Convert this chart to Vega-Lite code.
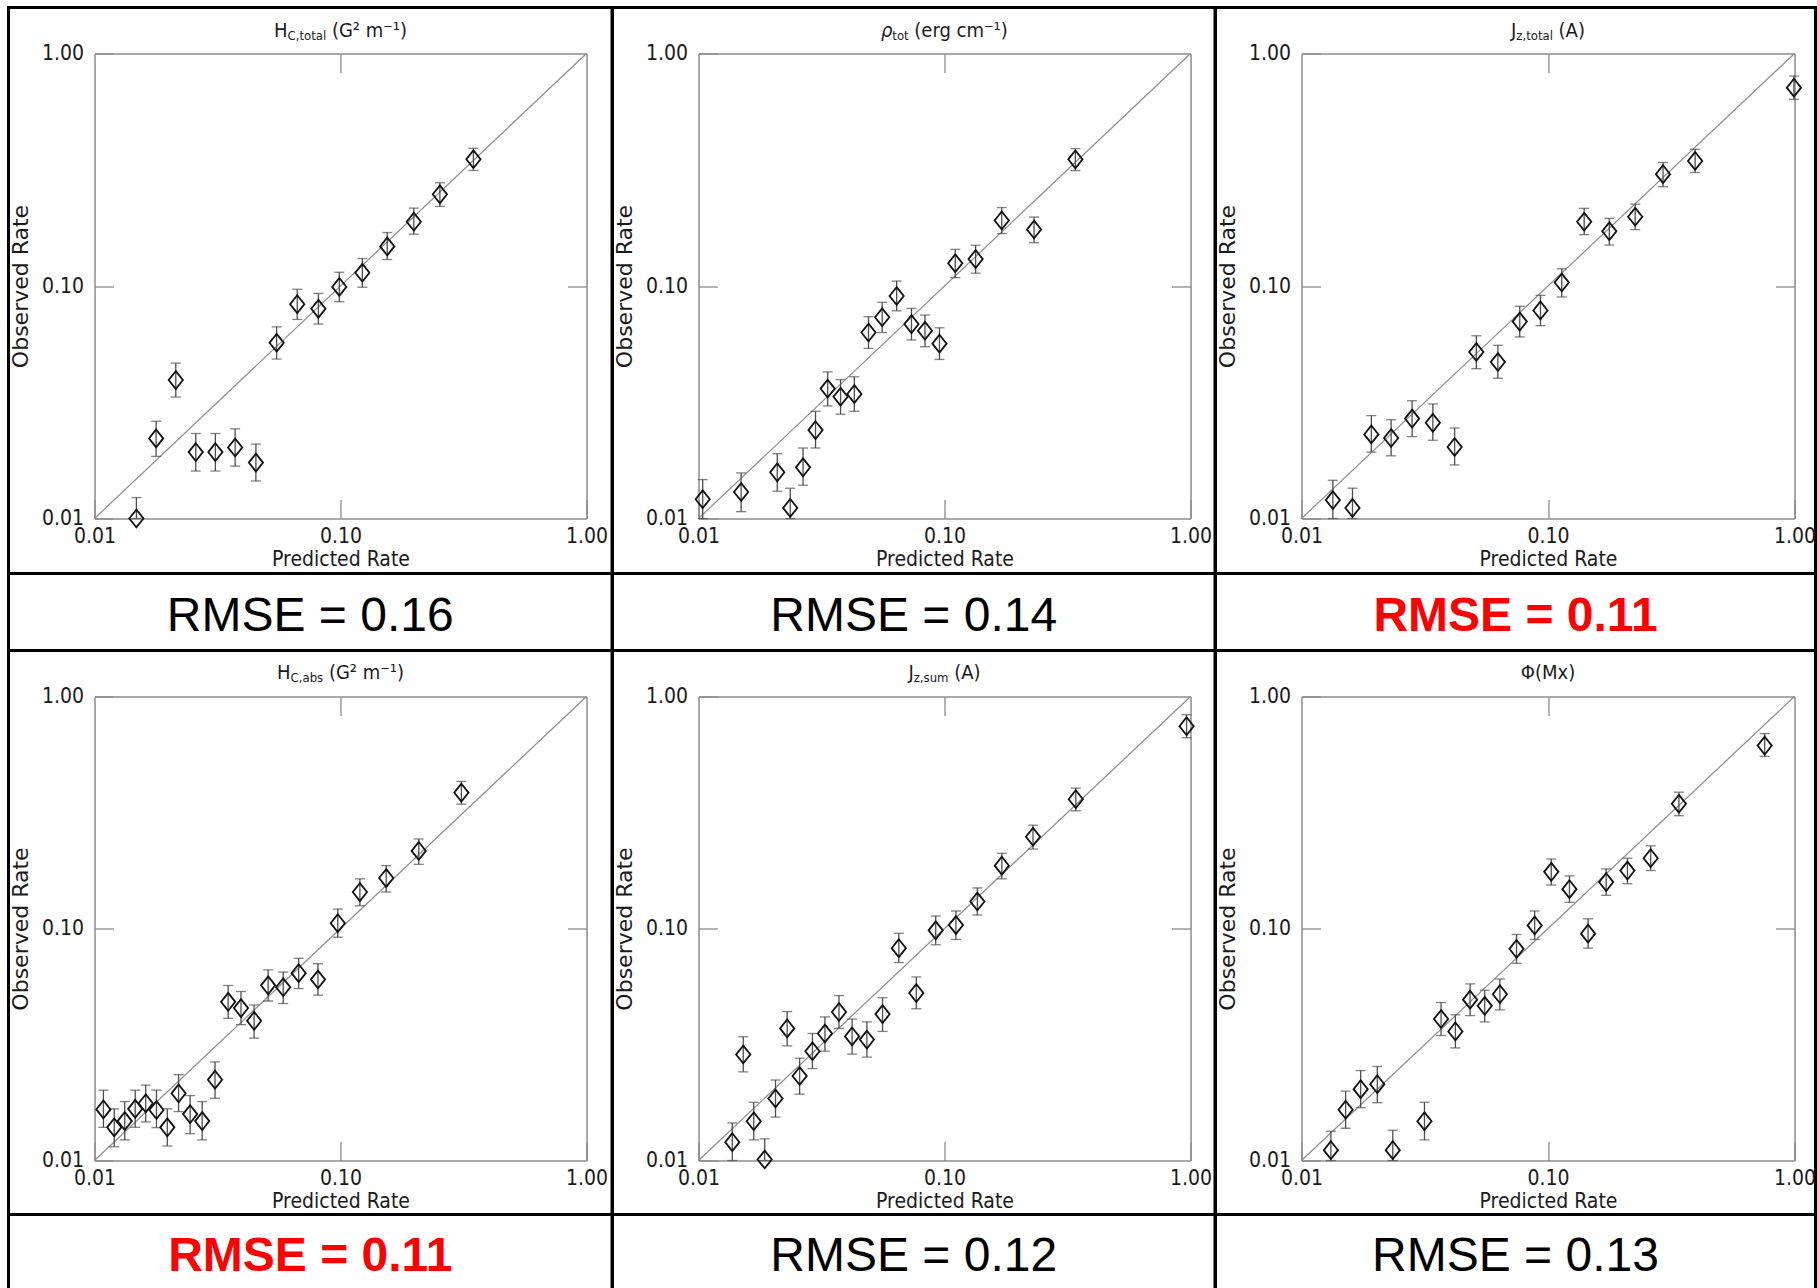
{
  "$schema": "https://vega.github.io/schema/vega-lite/v6.json",
  "background": "white",
  "padding": {"left": 6.5, "top": 5.5, "right": 0, "bottom": 0},
  "config": {
    "view": {"stroke": "black", "strokeWidth": 3},
    "font": "DejaVu Sans Condensed",
    "concat": {"spacing": 0}
  },
  "datasets": {
    "diag": [{"v": 0.01}, {"v": 1}],
    "p1": [
      {"pred": 0.0148, "obs": 0.0100, "lo": 0.0100, "hi": 0.0123},
      {"pred": 0.0178, "obs": 0.0221, "lo": 0.0185, "hi": 0.0262},
      {"pred": 0.0214, "obs": 0.0394, "lo": 0.0333, "hi": 0.0466},
      {"pred": 0.0258, "obs": 0.0193, "lo": 0.0160, "hi": 0.0232},
      {"pred": 0.0310, "obs": 0.0193, "lo": 0.0160, "hi": 0.0232},
      {"pred": 0.0373, "obs": 0.0202, "lo": 0.0168, "hi": 0.0243},
      {"pred": 0.0453, "obs": 0.0174, "lo": 0.0145, "hi": 0.0209},
      {"pred": 0.0550, "obs": 0.0570, "lo": 0.0485, "hi": 0.0667},
      {"pred": 0.0667, "obs": 0.0835, "lo": 0.0718, "hi": 0.0968},
      {"pred": 0.0813, "obs": 0.0798, "lo": 0.0686, "hi": 0.0929},
      {"pred": 0.0989, "obs": 0.0991, "lo": 0.0856, "hi": 0.1146},
      {"pred": 0.1227, "obs": 0.1140, "lo": 0.0988, "hi": 0.1313},
      {"pred": 0.1549, "obs": 0.1480, "lo": 0.1300, "hi": 0.1698},
      {"pred": 0.1986, "obs": 0.1890, "lo": 0.1670, "hi": 0.2163},
      {"pred": 0.2535, "obs": 0.2480, "lo": 0.2200, "hi": 0.2780},
      {"pred": 0.3470, "obs": 0.3510, "lo": 0.3140, "hi": 0.3910}
    ],
    "p2": [
      {"pred": 0.0104, "obs": 0.0121, "lo": 0.0100, "hi": 0.0147},
      {"pred": 0.0149, "obs": 0.0130, "lo": 0.0107, "hi": 0.0157},
      {"pred": 0.0209, "obs": 0.0158, "lo": 0.0131, "hi": 0.0190},
      {"pred": 0.0236, "obs": 0.0111, "lo": 0.0100, "hi": 0.0135},
      {"pred": 0.0266, "obs": 0.0166, "lo": 0.0139, "hi": 0.0201},
      {"pred": 0.0299, "obs": 0.0240, "lo": 0.0201, "hi": 0.0289},
      {"pred": 0.0335, "obs": 0.0362, "lo": 0.0305, "hi": 0.0427},
      {"pred": 0.0378, "obs": 0.0334, "lo": 0.0281, "hi": 0.0396},
      {"pred": 0.0430, "obs": 0.0343, "lo": 0.0289, "hi": 0.0407},
      {"pred": 0.0491, "obs": 0.0631, "lo": 0.0539, "hi": 0.0738},
      {"pred": 0.0558, "obs": 0.0734, "lo": 0.0631, "hi": 0.0851},
      {"pred": 0.0639, "obs": 0.0906, "lo": 0.0782, "hi": 0.1050},
      {"pred": 0.0734, "obs": 0.0686, "lo": 0.0586, "hi": 0.0801},
      {"pred": 0.0833, "obs": 0.0642, "lo": 0.0548, "hi": 0.0750},
      {"pred": 0.0954, "obs": 0.0565, "lo": 0.0483, "hi": 0.0661},
      {"pred": 0.1106, "obs": 0.1253, "lo": 0.1086, "hi": 0.1437},
      {"pred": 0.1338, "obs": 0.1306, "lo": 0.1135, "hi": 0.1497},
      {"pred": 0.1709, "obs": 0.1914, "lo": 0.1680, "hi": 0.2175},
      {"pred": 0.2312, "obs": 0.1750, "lo": 0.1535, "hi": 0.1980},
      {"pred": 0.3404, "obs": 0.3505, "lo": 0.3135, "hi": 0.3900}
    ],
    "p3": [
      {"pred": 0.0134, "obs": 0.0120, "lo": 0.0100, "hi": 0.0146},
      {"pred": 0.0161, "obs": 0.0111, "lo": 0.0100, "hi": 0.0135},
      {"pred": 0.0192, "obs": 0.0230, "lo": 0.0193, "hi": 0.0277},
      {"pred": 0.0231, "obs": 0.0222, "lo": 0.0186, "hi": 0.0266},
      {"pred": 0.0281, "obs": 0.0269, "lo": 0.0225, "hi": 0.0321},
      {"pred": 0.0341, "obs": 0.0258, "lo": 0.0217, "hi": 0.0311},
      {"pred": 0.0418, "obs": 0.0203, "lo": 0.0170, "hi": 0.0245},
      {"pred": 0.0512, "obs": 0.0520, "lo": 0.0441, "hi": 0.0611},
      {"pred": 0.0626, "obs": 0.0471, "lo": 0.0401, "hi": 0.0556},
      {"pred": 0.0768, "obs": 0.0703, "lo": 0.0604, "hi": 0.0818},
      {"pred": 0.0932, "obs": 0.0785, "lo": 0.0675, "hi": 0.0912},
      {"pred": 0.1137, "obs": 0.1035, "lo": 0.0897, "hi": 0.1186},
      {"pred": 0.1402, "obs": 0.1890, "lo": 0.1663, "hi": 0.2158},
      {"pred": 0.1773, "obs": 0.1720, "lo": 0.1500, "hi": 0.1954},
      {"pred": 0.2258, "obs": 0.1986, "lo": 0.1748, "hi": 0.2249},
      {"pred": 0.2928, "obs": 0.3027, "lo": 0.2674, "hi": 0.3397},
      {"pred": 0.3953, "obs": 0.3450, "lo": 0.3076, "hi": 0.3873},
      {"pred": 0.9950, "obs": 0.7130, "lo": 0.6350, "hi": 0.8000}
    ],
    "p4": [
      {"pred": 0.01087, "obs": 0.0166, "lo": 0.0139, "hi": 0.0201},
      {"pred": 0.01203, "obs": 0.0139, "lo": 0.01146, "hi": 0.0167},
      {"pred": 0.01327, "obs": 0.01479, "lo": 0.01227, "hi": 0.01795},
      {"pred": 0.01464, "obs": 0.0167, "lo": 0.0139, "hi": 0.0201},
      {"pred": 0.01615, "obs": 0.01764, "lo": 0.01466, "hi": 0.02113},
      {"pred": 0.01786, "obs": 0.01651, "lo": 0.01385, "hi": 0.0201},
      {"pred": 0.01977, "obs": 0.0139, "lo": 0.01155, "hi": 0.0167},
      {"pred": 0.02197, "obs": 0.01947, "lo": 0.01625, "hi": 0.02344},
      {"pred": 0.02448, "obs": 0.01585, "lo": 0.01305, "hi": 0.01905},
      {"pred": 0.0274, "obs": 0.01479, "lo": 0.01227, "hi": 0.01795},
      {"pred": 0.0309, "obs": 0.0223, "lo": 0.01854, "hi": 0.0266},
      {"pred": 0.03494, "obs": 0.0483, "lo": 0.041, "hi": 0.0568},
      {"pred": 0.0394, "obs": 0.0454, "lo": 0.0385, "hi": 0.0535},
      {"pred": 0.04455, "obs": 0.04, "lo": 0.0337, "hi": 0.0468},
      {"pred": 0.0508, "obs": 0.0569, "lo": 0.0487, "hi": 0.0663},
      {"pred": 0.0585, "obs": 0.0558, "lo": 0.0475, "hi": 0.0649},
      {"pred": 0.0676, "obs": 0.0642, "lo": 0.0551, "hi": 0.0744},
      {"pred": 0.081, "obs": 0.0603, "lo": 0.0516, "hi": 0.0705},
      {"pred": 0.0975, "obs": 0.1054, "lo": 0.0917, "hi": 0.1213},
      {"pred": 0.1199, "obs": 0.1436, "lo": 0.1253, "hi": 0.1637},
      {"pred": 0.1534, "obs": 0.165, "lo": 0.1436, "hi": 0.1867},
      {"pred": 0.208, "obs": 0.216, "lo": 0.189, "hi": 0.2432},
      {"pred": 0.31, "obs": 0.3853, "lo": 0.3436, "hi": 0.4307}
    ],
    "p5": [
      {"pred": 0.01372, "obs": 0.012, "lo": 0.01, "hi": 0.01452},
      {"pred": 0.0152, "obs": 0.02864, "lo": 0.0241, "hi": 0.03414},
      {"pred": 0.01677, "obs": 0.01476, "lo": 0.01227, "hi": 0.01782},
      {"pred": 0.01858, "obs": 0.0101, "lo": 0.01, "hi": 0.0124},
      {"pred": 0.02056, "obs": 0.0185, "lo": 0.01538, "hi": 0.02223},
      {"pred": 0.02293, "obs": 0.0371, "lo": 0.0312, "hi": 0.04385},
      {"pred": 0.02577, "obs": 0.02314, "lo": 0.01931, "hi": 0.0276},
      {"pred": 0.02905, "obs": 0.02958, "lo": 0.0249, "hi": 0.03528},
      {"pred": 0.03266, "obs": 0.03528, "lo": 0.0296, "hi": 0.04159},
      {"pred": 0.03724, "obs": 0.04365, "lo": 0.0371, "hi": 0.0514},
      {"pred": 0.0421, "obs": 0.03427, "lo": 0.02875, "hi": 0.0407},
      {"pred": 0.04837, "obs": 0.0332, "lo": 0.0279, "hi": 0.0396},
      {"pred": 0.056, "obs": 0.04275, "lo": 0.036, "hi": 0.0503},
      {"pred": 0.0652, "obs": 0.0823, "lo": 0.0713, "hi": 0.0954},
      {"pred": 0.0768, "obs": 0.0527, "lo": 0.0451, "hi": 0.0618},
      {"pred": 0.0921, "obs": 0.0982, "lo": 0.0851, "hi": 0.1132},
      {"pred": 0.1113, "obs": 0.1035, "lo": 0.0897, "hi": 0.119},
      {"pred": 0.136, "obs": 0.1307, "lo": 0.1143, "hi": 0.1496},
      {"pred": 0.171, "obs": 0.1866, "lo": 0.1637, "hi": 0.211},
      {"pred": 0.229, "obs": 0.2486, "lo": 0.22, "hi": 0.2788},
      {"pred": 0.3418, "obs": 0.3608, "lo": 0.3218, "hi": 0.4029},
      {"pred": 0.964, "obs": 0.7447, "lo": 0.664, "hi": 0.835}
    ],
    "p6": [
      {"pred": 0.01316, "obs": 0.01108, "lo": 0.01, "hi": 0.01337},
      {"pred": 0.0151, "obs": 0.01655, "lo": 0.01377, "hi": 0.0199},
      {"pred": 0.01738, "obs": 0.0203, "lo": 0.01689, "hi": 0.02441},
      {"pred": 0.0203, "obs": 0.02133, "lo": 0.01774, "hi": 0.02542},
      {"pred": 0.02346, "obs": 0.01108, "lo": 0.01, "hi": 0.0135},
      {"pred": 0.03154, "obs": 0.01476, "lo": 0.01227, "hi": 0.01782},
      {"pred": 0.03683, "obs": 0.04073, "lo": 0.03457, "hi": 0.04797},
      {"pred": 0.0421, "obs": 0.036, "lo": 0.03057, "hi": 0.04246},
      {"pred": 0.0483, "obs": 0.04934, "lo": 0.0421, "hi": 0.0577},
      {"pred": 0.05538, "obs": 0.04642, "lo": 0.03956, "hi": 0.0542},
      {"pred": 0.0638, "obs": 0.0521, "lo": 0.04457, "hi": 0.0606},
      {"pred": 0.07453, "obs": 0.0817, "lo": 0.0708, "hi": 0.0942},
      {"pred": 0.0883, "obs": 0.1031, "lo": 0.0897, "hi": 0.119},
      {"pred": 0.1031, "obs": 0.1755, "lo": 0.154, "hi": 0.1993},
      {"pred": 0.1222, "obs": 0.1478, "lo": 0.1297, "hi": 0.1685},
      {"pred": 0.1454, "obs": 0.095, "lo": 0.0823, "hi": 0.1101},
      {"pred": 0.1722, "obs": 0.1585, "lo": 0.139, "hi": 0.1806},
      {"pred": 0.21, "obs": 0.1777, "lo": 0.156, "hi": 0.2009},
      {"pred": 0.261, "obs": 0.2009, "lo": 0.1777, "hi": 0.2272},
      {"pred": 0.3396, "obs": 0.345, "lo": 0.3063, "hi": 0.387},
      {"pred": 0.757, "obs": 0.6143, "lo": 0.552, "hi": 0.692}
    ]
  },
  "columns": 3,
  "spacing": 0,
  "bounds": "flush",
  "concat": [
    {
      "width": 603.5, "height": 566,
      "layer": [
        {"data": {"name": "diag"}, "mark": {"type": "line", "color": "#8c8c8c", "strokeWidth": 1.2},
         "encoding": {
           "x": {"field": "v", "type": "quantitative", "scale": {"type": "log", "domain": [0.01, 1], "range": [86, 578], "nice": false},
                 "axis": {"orient": "bottom", "offset": -55, "values": [0.01, 0.1, 1], "format": ".2f", "grid": false, "labelFlush": false, "labelOverlap": false, "tickSize": -19, "tickColor": "#8c8c8c", "tickWidth": 1.3, "domainColor": "#8c8c8c", "domainWidth": 1.5, "labelPadding": 26, "labelFont": "DejaVu Sans Condensed", "labelFontSize": 21, "labelColor": "#1a1a1a", "title": "Predicted Rate", "titleFont": "DejaVu Sans Condensed", "titleFontSize": 21, "titleFontWeight": "normal", "titleColor": "#1a1a1a", "titlePadding": 2}},
           "y": {"field": "v", "type": "quantitative", "scale": {"type": "log", "domain": [0.01, 1], "range": [511, 46], "nice": false},
                 "axis": {"orient": "left", "offset": -86, "values": [0.01, 0.1, 1], "format": ".2f", "grid": false, "labelFlush": false, "labelOverlap": false, "tickSize": -19, "tickColor": "#8c8c8c", "tickWidth": 1.3, "domainColor": "#8c8c8c", "domainWidth": 1.5, "labelPadding": 30, "labelFont": "DejaVu Sans Condensed", "labelFontSize": 21, "labelColor": "#1a1a1a", "title": "Observed Rate", "titleFont": "DejaVu Sans", "titleFontSize": 22, "titleFontWeight": "normal", "titleColor": "#1a1a1a", "titlePadding": 9}}
         }},
        {"data": {"name": "p1"}, "mark": {"type": "errorbar", "ticks": true, "size": 10, "thickness": 1.3, "color": "#4d4d4d"},
         "encoding": {
           "x": {"field": "pred", "type": "quantitative", "scale": {"type": "log", "domain": [0.01, 1], "range": [86, 578], "nice": false}, "axis": null},
           "y": {"field": "lo", "type": "quantitative", "scale": {"type": "log", "domain": [0.01, 1], "range": [511, 46], "nice": false}, "axis": null},
           "y2": {"field": "hi"}
         }},
        {"data": {"name": "p1"}, "mark": {"type": "point", "shape": "M0,-1L0.8,0L0,1L-0.8,0Z", "size": 317, "filled": false, "color": "#111111", "strokeWidth": 1.8, "opacity": 1},
         "encoding": {
           "x": {"field": "pred", "type": "quantitative", "scale": {"type": "log", "domain": [0.01, 1], "range": [86, 578], "nice": false},
                 "axis": {"orient": "top", "offset": -46, "values": [0.1], "grid": false, "labels": false, "tickSize": -19, "tickColor": "#8c8c8c", "tickWidth": 1.3, "domainColor": "#8c8c8c", "domainWidth": 1.5, "title": null}},
           "y": {"field": "obs", "type": "quantitative", "scale": {"type": "log", "domain": [0.01, 1], "range": [511, 46], "nice": false},
                 "axis": {"orient": "right", "offset": -25.5, "values": [0.1], "grid": false, "labels": false, "tickSize": -19, "tickColor": "#8c8c8c", "tickWidth": 1.3, "domainColor": "#8c8c8c", "domainWidth": 1.5, "title": null}}
         }},
        {"data": {"values": [{"t": "H"}]}, "mark": {"type": "text", "align": "left", "baseline": "middle", "font": "DejaVu Sans Condensed", "fontSize": 20, "color": "#1a1a1a", "dx": -66.4, "dy": -23},
         "encoding": {"x": {"datum": 0.1, "type": "quantitative", "axis": null}, "y": {"datum": 1, "type": "quantitative", "axis": null}, "text": {"field": "t"}}},
        {"data": {"values": [{"t": "C,total"}]}, "mark": {"type": "text", "align": "left", "baseline": "middle", "font": "DejaVu Sans Condensed", "fontSize": 13, "color": "#1a1a1a", "dx": -52.9, "dy": -18},
         "encoding": {"x": {"datum": 0.1, "type": "quantitative", "axis": null}, "y": {"datum": 1, "type": "quantitative", "axis": null}, "text": {"field": "t"}}},
        {"data": {"values": [{"t": "(G² m⁻¹)"}]}, "mark": {"type": "text", "align": "left", "baseline": "middle", "font": "DejaVu Sans Condensed", "fontSize": 20, "color": "#1a1a1a", "dx": -8.6, "dy": -23},
         "encoding": {"x": {"datum": 0.1, "type": "quantitative", "axis": null}, "y": {"datum": 1, "type": "quantitative", "axis": null}, "text": {"field": "t"}}}
      ],
      "resolve": {"axis": {"x": "independent", "y": "independent"}}
    },
    {
      "width": 602.5, "height": 566,
      "layer": [
        {"data": {"name": "diag"}, "mark": {"type": "line", "color": "#8c8c8c", "strokeWidth": 1.2},
         "encoding": {
           "x": {"field": "v", "type": "quantitative", "scale": {"type": "log", "domain": [0.01, 1], "range": [86, 578], "nice": false},
                 "axis": {"orient": "bottom", "offset": -55, "values": [0.01, 0.1, 1], "format": ".2f", "grid": false, "labelFlush": false, "labelOverlap": false, "tickSize": -19, "tickColor": "#8c8c8c", "tickWidth": 1.3, "domainColor": "#8c8c8c", "domainWidth": 1.5, "labelPadding": 26, "labelFont": "DejaVu Sans Condensed", "labelFontSize": 21, "labelColor": "#1a1a1a", "title": "Predicted Rate", "titleFont": "DejaVu Sans Condensed", "titleFontSize": 21, "titleFontWeight": "normal", "titleColor": "#1a1a1a", "titlePadding": 2}},
           "y": {"field": "v", "type": "quantitative", "scale": {"type": "log", "domain": [0.01, 1], "range": [511, 46], "nice": false},
                 "axis": {"orient": "left", "offset": -86, "values": [0.01, 0.1, 1], "format": ".2f", "grid": false, "labelFlush": false, "labelOverlap": false, "tickSize": -19, "tickColor": "#8c8c8c", "tickWidth": 1.3, "domainColor": "#8c8c8c", "domainWidth": 1.5, "labelPadding": 30, "labelFont": "DejaVu Sans Condensed", "labelFontSize": 21, "labelColor": "#1a1a1a", "title": "Observed Rate", "titleFont": "DejaVu Sans", "titleFontSize": 22, "titleFontWeight": "normal", "titleColor": "#1a1a1a", "titlePadding": 9}}
         }},
        {"data": {"name": "p2"}, "mark": {"type": "errorbar", "ticks": true, "size": 10, "thickness": 1.3, "color": "#4d4d4d"},
         "encoding": {
           "x": {"field": "pred", "type": "quantitative", "scale": {"type": "log", "domain": [0.01, 1], "range": [86, 578], "nice": false}, "axis": null},
           "y": {"field": "lo", "type": "quantitative", "scale": {"type": "log", "domain": [0.01, 1], "range": [511, 46], "nice": false}, "axis": null},
           "y2": {"field": "hi"}
         }},
        {"data": {"name": "p2"}, "mark": {"type": "point", "shape": "M0,-1L0.8,0L0,1L-0.8,0Z", "size": 317, "filled": false, "color": "#111111", "strokeWidth": 1.8, "opacity": 1},
         "encoding": {
           "x": {"field": "pred", "type": "quantitative", "scale": {"type": "log", "domain": [0.01, 1], "range": [86, 578], "nice": false},
                 "axis": {"orient": "top", "offset": -46, "values": [0.1], "grid": false, "labels": false, "tickSize": -19, "tickColor": "#8c8c8c", "tickWidth": 1.3, "domainColor": "#8c8c8c", "domainWidth": 1.5, "title": null}},
           "y": {"field": "obs", "type": "quantitative", "scale": {"type": "log", "domain": [0.01, 1], "range": [511, 46], "nice": false},
                 "axis": {"orient": "right", "offset": -24.5, "values": [0.1], "grid": false, "labels": false, "tickSize": -19, "tickColor": "#8c8c8c", "tickWidth": 1.3, "domainColor": "#8c8c8c", "domainWidth": 1.5, "title": null}}
         }},
        {"data": {"values": [{"t": "ρ"}]}, "mark": {"type": "text", "align": "left", "baseline": "middle", "font": "DejaVu Sans Condensed", "fontStyle": "italic", "fontSize": 20, "color": "#1a1a1a", "dx": -63.6, "dy": -23},
         "encoding": {"x": {"datum": 0.1, "type": "quantitative", "axis": null}, "y": {"datum": 1, "type": "quantitative", "axis": null}, "text": {"field": "t"}}},
        {"data": {"values": [{"t": "tot"}]}, "mark": {"type": "text", "align": "left", "baseline": "middle", "font": "DejaVu Sans Condensed", "fontSize": 13, "color": "#1a1a1a", "dx": -52.2, "dy": -18},
         "encoding": {"x": {"datum": 0.1, "type": "quantitative", "axis": null}, "y": {"datum": 1, "type": "quantitative", "axis": null}, "text": {"field": "t"}}},
        {"data": {"values": [{"t": "(erg cm⁻¹)"}]}, "mark": {"type": "text", "align": "left", "baseline": "middle", "font": "DejaVu Sans Condensed", "fontSize": 20, "color": "#1a1a1a", "dx": -30.2, "dy": -23},
         "encoding": {"x": {"datum": 0.1, "type": "quantitative", "axis": null}, "y": {"datum": 1, "type": "quantitative", "axis": null}, "text": {"field": "t"}}}
      ],
      "resolve": {"axis": {"x": "independent", "y": "independent"}}
    },
    {
      "width": 600, "height": 566,
      "layer": [
        {"data": {"name": "diag"}, "mark": {"type": "line", "color": "#8c8c8c", "strokeWidth": 1.2},
         "encoding": {
           "x": {"field": "v", "type": "quantitative", "scale": {"type": "log", "domain": [0.01, 1], "range": [86, 579], "nice": false},
                 "axis": {"orient": "bottom", "offset": -55, "values": [0.01, 0.1, 1], "format": ".2f", "grid": false, "labelFlush": false, "labelOverlap": false, "tickSize": -19, "tickColor": "#8c8c8c", "tickWidth": 1.3, "domainColor": "#8c8c8c", "domainWidth": 1.5, "labelPadding": 26, "labelFont": "DejaVu Sans Condensed", "labelFontSize": 21, "labelColor": "#1a1a1a", "title": "Predicted Rate", "titleFont": "DejaVu Sans Condensed", "titleFontSize": 21, "titleFontWeight": "normal", "titleColor": "#1a1a1a", "titlePadding": 2}},
           "y": {"field": "v", "type": "quantitative", "scale": {"type": "log", "domain": [0.01, 1], "range": [511, 46], "nice": false},
                 "axis": {"orient": "left", "offset": -86, "values": [0.01, 0.1, 1], "format": ".2f", "grid": false, "labelFlush": false, "labelOverlap": false, "tickSize": -19, "tickColor": "#8c8c8c", "tickWidth": 1.3, "domainColor": "#8c8c8c", "domainWidth": 1.5, "labelPadding": 30, "labelFont": "DejaVu Sans Condensed", "labelFontSize": 21, "labelColor": "#1a1a1a", "title": "Observed Rate", "titleFont": "DejaVu Sans", "titleFontSize": 22, "titleFontWeight": "normal", "titleColor": "#1a1a1a", "titlePadding": 9}}
         }},
        {"data": {"name": "p3"}, "mark": {"type": "errorbar", "ticks": true, "size": 10, "thickness": 1.3, "color": "#4d4d4d"},
         "encoding": {
           "x": {"field": "pred", "type": "quantitative", "scale": {"type": "log", "domain": [0.01, 1], "range": [86, 579], "nice": false}, "axis": null},
           "y": {"field": "lo", "type": "quantitative", "scale": {"type": "log", "domain": [0.01, 1], "range": [511, 46], "nice": false}, "axis": null},
           "y2": {"field": "hi"}
         }},
        {"data": {"name": "p3"}, "mark": {"type": "point", "shape": "M0,-1L0.8,0L0,1L-0.8,0Z", "size": 317, "filled": false, "color": "#111111", "strokeWidth": 1.8, "opacity": 1},
         "encoding": {
           "x": {"field": "pred", "type": "quantitative", "scale": {"type": "log", "domain": [0.01, 1], "range": [86, 579], "nice": false},
                 "axis": {"orient": "top", "offset": -46, "values": [0.1], "grid": false, "labels": false, "tickSize": -19, "tickColor": "#8c8c8c", "tickWidth": 1.3, "domainColor": "#8c8c8c", "domainWidth": 1.5, "title": null}},
           "y": {"field": "obs", "type": "quantitative", "scale": {"type": "log", "domain": [0.01, 1], "range": [511, 46], "nice": false},
                 "axis": {"orient": "right", "offset": -21, "values": [0.1], "grid": false, "labels": false, "tickSize": -19, "tickColor": "#8c8c8c", "tickWidth": 1.3, "domainColor": "#8c8c8c", "domainWidth": 1.5, "title": null}}
         }},
        {"data": {"values": [{"t": "J"}]}, "mark": {"type": "text", "align": "left", "baseline": "middle", "font": "DejaVu Sans Condensed", "fontSize": 20, "color": "#1a1a1a", "dx": -37, "dy": -23},
         "encoding": {"x": {"datum": 0.1, "type": "quantitative", "axis": null}, "y": {"datum": 1, "type": "quantitative", "axis": null}, "text": {"field": "t"}}},
        {"data": {"values": [{"t": "z,total"}]}, "mark": {"type": "text", "align": "left", "baseline": "middle", "font": "DejaVu Sans Condensed", "fontSize": 13, "color": "#1a1a1a", "dx": -31.7, "dy": -18},
         "encoding": {"x": {"datum": 0.1, "type": "quantitative", "axis": null}, "y": {"datum": 1, "type": "quantitative", "axis": null}, "text": {"field": "t"}}},
        {"data": {"values": [{"t": "(A)"}]}, "mark": {"type": "text", "align": "left", "baseline": "middle", "font": "DejaVu Sans Condensed", "fontSize": 20, "color": "#1a1a1a", "dx": 10.6, "dy": -23},
         "encoding": {"x": {"datum": 0.1, "type": "quantitative", "axis": null}, "y": {"datum": 1, "type": "quantitative", "axis": null}, "text": {"field": "t"}}}
      ],
      "resolve": {"axis": {"x": "independent", "y": "independent"}}
    },
    {"width": 603.5, "height": 77, "data": {"values": [{"label": "RMSE = 0.16"}]},
     "mark": {"type": "text", "font": "Liberation Sans", "fontSize": 48, "color": "black", "baseline": "middle", "dy": 5},
     "encoding": {"x": {"datum": 0.5, "type": "quantitative", "scale": {"domain": [0, 1]}, "axis": null}, "y": {"datum": 0.5, "type": "quantitative", "scale": {"domain": [0, 1]}, "axis": null}, "text": {"field": "label"}}},
    {"width": 602.5, "height": 77, "data": {"values": [{"label": "RMSE = 0.14"}]},
     "mark": {"type": "text", "font": "Liberation Sans", "fontSize": 48, "color": "black", "baseline": "middle", "dy": 5},
     "encoding": {"x": {"datum": 0.5, "type": "quantitative", "scale": {"domain": [0, 1]}, "axis": null}, "y": {"datum": 0.5, "type": "quantitative", "scale": {"domain": [0, 1]}, "axis": null}, "text": {"field": "label"}}},
    {"width": 600, "height": 77, "data": {"values": [{"label": "RMSE = 0.11"}]},
     "mark": {"type": "text", "font": "Liberation Sans", "fontSize": 48, "fontWeight": "bold", "color": "#ff0000", "baseline": "middle", "dy": 5},
     "encoding": {"x": {"datum": 0.5, "type": "quantitative", "scale": {"domain": [0, 1]}, "axis": null}, "y": {"datum": 0.5, "type": "quantitative", "scale": {"domain": [0, 1]}, "axis": null}, "text": {"field": "label"}}},
    {
      "width": 603.5, "height": 564,
      "layer": [
        {"data": {"name": "diag"}, "mark": {"type": "line", "color": "#8c8c8c", "strokeWidth": 1.2},
         "encoding": {
           "x": {"field": "v", "type": "quantitative", "scale": {"type": "log", "domain": [0.01, 1], "range": [86, 578], "nice": false},
                 "axis": {"orient": "bottom", "offset": -54, "values": [0.01, 0.1, 1], "format": ".2f", "grid": false, "labelFlush": false, "labelOverlap": false, "tickSize": -19, "tickColor": "#8c8c8c", "tickWidth": 1.3, "domainColor": "#8c8c8c", "domainWidth": 1.5, "labelPadding": 26, "labelFont": "DejaVu Sans Condensed", "labelFontSize": 21, "labelColor": "#1a1a1a", "title": "Predicted Rate", "titleFont": "DejaVu Sans Condensed", "titleFontSize": 21, "titleFontWeight": "normal", "titleColor": "#1a1a1a", "titlePadding": 2}},
           "y": {"field": "v", "type": "quantitative", "scale": {"type": "log", "domain": [0.01, 1], "range": [510, 46], "nice": false},
                 "axis": {"orient": "left", "offset": -86, "values": [0.01, 0.1, 1], "format": ".2f", "grid": false, "labelFlush": false, "labelOverlap": false, "tickSize": -19, "tickColor": "#8c8c8c", "tickWidth": 1.3, "domainColor": "#8c8c8c", "domainWidth": 1.5, "labelPadding": 30, "labelFont": "DejaVu Sans Condensed", "labelFontSize": 21, "labelColor": "#1a1a1a", "title": "Observed Rate", "titleFont": "DejaVu Sans", "titleFontSize": 22, "titleFontWeight": "normal", "titleColor": "#1a1a1a", "titlePadding": 9}}
         }},
        {"data": {"name": "p4"}, "mark": {"type": "errorbar", "ticks": true, "size": 10, "thickness": 1.3, "color": "#4d4d4d"},
         "encoding": {
           "x": {"field": "pred", "type": "quantitative", "scale": {"type": "log", "domain": [0.01, 1], "range": [86, 578], "nice": false}, "axis": null},
           "y": {"field": "lo", "type": "quantitative", "scale": {"type": "log", "domain": [0.01, 1], "range": [510, 46], "nice": false}, "axis": null},
           "y2": {"field": "hi"}
         }},
        {"data": {"name": "p4"}, "mark": {"type": "point", "shape": "M0,-1L0.8,0L0,1L-0.8,0Z", "size": 317, "filled": false, "color": "#111111", "strokeWidth": 1.8, "opacity": 1},
         "encoding": {
           "x": {"field": "pred", "type": "quantitative", "scale": {"type": "log", "domain": [0.01, 1], "range": [86, 578], "nice": false},
                 "axis": {"orient": "top", "offset": -46, "values": [0.1], "grid": false, "labels": false, "tickSize": -19, "tickColor": "#8c8c8c", "tickWidth": 1.3, "domainColor": "#8c8c8c", "domainWidth": 1.5, "title": null}},
           "y": {"field": "obs", "type": "quantitative", "scale": {"type": "log", "domain": [0.01, 1], "range": [510, 46], "nice": false},
                 "axis": {"orient": "right", "offset": -25.5, "values": [0.1], "grid": false, "labels": false, "tickSize": -19, "tickColor": "#8c8c8c", "tickWidth": 1.3, "domainColor": "#8c8c8c", "domainWidth": 1.5, "title": null}}
         }},
        {"data": {"values": [{"t": "H"}]}, "mark": {"type": "text", "align": "left", "baseline": "middle", "font": "DejaVu Sans Condensed", "fontSize": 20, "color": "#1a1a1a", "dx": -63.4, "dy": -24},
         "encoding": {"x": {"datum": 0.1, "type": "quantitative", "axis": null}, "y": {"datum": 1, "type": "quantitative", "axis": null}, "text": {"field": "t"}}},
        {"data": {"values": [{"t": "C,abs"}]}, "mark": {"type": "text", "align": "left", "baseline": "middle", "font": "DejaVu Sans Condensed", "fontSize": 13, "color": "#1a1a1a", "dx": -49.9, "dy": -19},
         "encoding": {"x": {"datum": 0.1, "type": "quantitative", "axis": null}, "y": {"datum": 1, "type": "quantitative", "axis": null}, "text": {"field": "t"}}},
        {"data": {"values": [{"t": "(G² m⁻¹)"}]}, "mark": {"type": "text", "align": "left", "baseline": "middle", "font": "DejaVu Sans Condensed", "fontSize": 20, "color": "#1a1a1a", "dx": -11.6, "dy": -24},
         "encoding": {"x": {"datum": 0.1, "type": "quantitative", "axis": null}, "y": {"datum": 1, "type": "quantitative", "axis": null}, "text": {"field": "t"}}}
      ],
      "resolve": {"axis": {"x": "independent", "y": "independent"}}
    },
    {
      "width": 602.5, "height": 564,
      "layer": [
        {"data": {"name": "diag"}, "mark": {"type": "line", "color": "#8c8c8c", "strokeWidth": 1.2},
         "encoding": {
           "x": {"field": "v", "type": "quantitative", "scale": {"type": "log", "domain": [0.01, 1], "range": [86, 578], "nice": false},
                 "axis": {"orient": "bottom", "offset": -54, "values": [0.01, 0.1, 1], "format": ".2f", "grid": false, "labelFlush": false, "labelOverlap": false, "tickSize": -19, "tickColor": "#8c8c8c", "tickWidth": 1.3, "domainColor": "#8c8c8c", "domainWidth": 1.5, "labelPadding": 26, "labelFont": "DejaVu Sans Condensed", "labelFontSize": 21, "labelColor": "#1a1a1a", "title": "Predicted Rate", "titleFont": "DejaVu Sans Condensed", "titleFontSize": 21, "titleFontWeight": "normal", "titleColor": "#1a1a1a", "titlePadding": 2}},
           "y": {"field": "v", "type": "quantitative", "scale": {"type": "log", "domain": [0.01, 1], "range": [510, 46], "nice": false},
                 "axis": {"orient": "left", "offset": -86, "values": [0.01, 0.1, 1], "format": ".2f", "grid": false, "labelFlush": false, "labelOverlap": false, "tickSize": -19, "tickColor": "#8c8c8c", "tickWidth": 1.3, "domainColor": "#8c8c8c", "domainWidth": 1.5, "labelPadding": 30, "labelFont": "DejaVu Sans Condensed", "labelFontSize": 21, "labelColor": "#1a1a1a", "title": "Observed Rate", "titleFont": "DejaVu Sans", "titleFontSize": 22, "titleFontWeight": "normal", "titleColor": "#1a1a1a", "titlePadding": 9}}
         }},
        {"data": {"name": "p5"}, "mark": {"type": "errorbar", "ticks": true, "size": 10, "thickness": 1.3, "color": "#4d4d4d"},
         "encoding": {
           "x": {"field": "pred", "type": "quantitative", "scale": {"type": "log", "domain": [0.01, 1], "range": [86, 578], "nice": false}, "axis": null},
           "y": {"field": "lo", "type": "quantitative", "scale": {"type": "log", "domain": [0.01, 1], "range": [510, 46], "nice": false}, "axis": null},
           "y2": {"field": "hi"}
         }},
        {"data": {"name": "p5"}, "mark": {"type": "point", "shape": "M0,-1L0.8,0L0,1L-0.8,0Z", "size": 317, "filled": false, "color": "#111111", "strokeWidth": 1.8, "opacity": 1},
         "encoding": {
           "x": {"field": "pred", "type": "quantitative", "scale": {"type": "log", "domain": [0.01, 1], "range": [86, 578], "nice": false},
                 "axis": {"orient": "top", "offset": -46, "values": [0.1], "grid": false, "labels": false, "tickSize": -19, "tickColor": "#8c8c8c", "tickWidth": 1.3, "domainColor": "#8c8c8c", "domainWidth": 1.5, "title": null}},
           "y": {"field": "obs", "type": "quantitative", "scale": {"type": "log", "domain": [0.01, 1], "range": [510, 46], "nice": false},
                 "axis": {"orient": "right", "offset": -24.5, "values": [0.1], "grid": false, "labels": false, "tickSize": -19, "tickColor": "#8c8c8c", "tickWidth": 1.3, "domainColor": "#8c8c8c", "domainWidth": 1.5, "title": null}}
         }},
        {"data": {"values": [{"t": "J"}]}, "mark": {"type": "text", "align": "left", "baseline": "middle", "font": "DejaVu Sans Condensed", "fontSize": 20, "color": "#1a1a1a", "dx": -36.1, "dy": -24},
         "encoding": {"x": {"datum": 0.1, "type": "quantitative", "axis": null}, "y": {"datum": 1, "type": "quantitative", "axis": null}, "text": {"field": "t"}}},
        {"data": {"values": [{"t": "z,sum"}]}, "mark": {"type": "text", "align": "left", "baseline": "middle", "font": "DejaVu Sans Condensed", "fontSize": 13, "color": "#1a1a1a", "dx": -30.8, "dy": -19},
         "encoding": {"x": {"datum": 0.1, "type": "quantitative", "axis": null}, "y": {"datum": 1, "type": "quantitative", "axis": null}, "text": {"field": "t"}}},
        {"data": {"values": [{"t": "(A)"}]}, "mark": {"type": "text", "align": "left", "baseline": "middle", "font": "DejaVu Sans Condensed", "fontSize": 20, "color": "#1a1a1a", "dx": 9.7, "dy": -24},
         "encoding": {"x": {"datum": 0.1, "type": "quantitative", "axis": null}, "y": {"datum": 1, "type": "quantitative", "axis": null}, "text": {"field": "t"}}}
      ],
      "resolve": {"axis": {"x": "independent", "y": "independent"}}
    },
    {
      "width": 600, "height": 564,
      "layer": [
        {"data": {"name": "diag"}, "mark": {"type": "line", "color": "#8c8c8c", "strokeWidth": 1.2},
         "encoding": {
           "x": {"field": "v", "type": "quantitative", "scale": {"type": "log", "domain": [0.01, 1], "range": [86, 579], "nice": false},
                 "axis": {"orient": "bottom", "offset": -54, "values": [0.01, 0.1, 1], "format": ".2f", "grid": false, "labelFlush": false, "labelOverlap": false, "tickSize": -19, "tickColor": "#8c8c8c", "tickWidth": 1.3, "domainColor": "#8c8c8c", "domainWidth": 1.5, "labelPadding": 26, "labelFont": "DejaVu Sans Condensed", "labelFontSize": 21, "labelColor": "#1a1a1a", "title": "Predicted Rate", "titleFont": "DejaVu Sans Condensed", "titleFontSize": 21, "titleFontWeight": "normal", "titleColor": "#1a1a1a", "titlePadding": 2}},
           "y": {"field": "v", "type": "quantitative", "scale": {"type": "log", "domain": [0.01, 1], "range": [510, 46], "nice": false},
                 "axis": {"orient": "left", "offset": -86, "values": [0.01, 0.1, 1], "format": ".2f", "grid": false, "labelFlush": false, "labelOverlap": false, "tickSize": -19, "tickColor": "#8c8c8c", "tickWidth": 1.3, "domainColor": "#8c8c8c", "domainWidth": 1.5, "labelPadding": 30, "labelFont": "DejaVu Sans Condensed", "labelFontSize": 21, "labelColor": "#1a1a1a", "title": "Observed Rate", "titleFont": "DejaVu Sans", "titleFontSize": 22, "titleFontWeight": "normal", "titleColor": "#1a1a1a", "titlePadding": 9}}
         }},
        {"data": {"name": "p6"}, "mark": {"type": "errorbar", "ticks": true, "size": 10, "thickness": 1.3, "color": "#4d4d4d"},
         "encoding": {
           "x": {"field": "pred", "type": "quantitative", "scale": {"type": "log", "domain": [0.01, 1], "range": [86, 579], "nice": false}, "axis": null},
           "y": {"field": "lo", "type": "quantitative", "scale": {"type": "log", "domain": [0.01, 1], "range": [510, 46], "nice": false}, "axis": null},
           "y2": {"field": "hi"}
         }},
        {"data": {"name": "p6"}, "mark": {"type": "point", "shape": "M0,-1L0.8,0L0,1L-0.8,0Z", "size": 317, "filled": false, "color": "#111111", "strokeWidth": 1.8, "opacity": 1},
         "encoding": {
           "x": {"field": "pred", "type": "quantitative", "scale": {"type": "log", "domain": [0.01, 1], "range": [86, 579], "nice": false},
                 "axis": {"orient": "top", "offset": -46, "values": [0.1], "grid": false, "labels": false, "tickSize": -19, "tickColor": "#8c8c8c", "tickWidth": 1.3, "domainColor": "#8c8c8c", "domainWidth": 1.5, "title": null}},
           "y": {"field": "obs", "type": "quantitative", "scale": {"type": "log", "domain": [0.01, 1], "range": [510, 46], "nice": false},
                 "axis": {"orient": "right", "offset": -21, "values": [0.1], "grid": false, "labels": false, "tickSize": -19, "tickColor": "#8c8c8c", "tickWidth": 1.3, "domainColor": "#8c8c8c", "domainWidth": 1.5, "title": null}}
         }},
        {"data": {"values": [{"t": "Φ(Mx)"}]}, "mark": {"type": "text", "align": "center", "baseline": "middle", "font": "DejaVu Sans Condensed", "fontSize": 20, "color": "#1a1a1a", "dy": -24},
         "encoding": {"x": {"datum": 0.1, "type": "quantitative", "axis": null}, "y": {"datum": 1, "type": "quantitative", "axis": null}, "text": {"field": "t"}}}
      ],
      "resolve": {"axis": {"x": "independent", "y": "independent"}}
    },
    {"width": 603.5, "height": 76, "data": {"values": [{"label": "RMSE = 0.11"}]},
     "mark": {"type": "text", "font": "Liberation Sans", "fontSize": 48, "fontWeight": "bold", "color": "#ff0000", "baseline": "middle", "dy": 4},
     "encoding": {"x": {"datum": 0.5, "type": "quantitative", "scale": {"domain": [0, 1]}, "axis": null}, "y": {"datum": 0.5, "type": "quantitative", "scale": {"domain": [0, 1]}, "axis": null}, "text": {"field": "label"}}},
    {"width": 602.5, "height": 76, "data": {"values": [{"label": "RMSE = 0.12"}]},
     "mark": {"type": "text", "font": "Liberation Sans", "fontSize": 48, "color": "black", "baseline": "middle", "dy": 4},
     "encoding": {"x": {"datum": 0.5, "type": "quantitative", "scale": {"domain": [0, 1]}, "axis": null}, "y": {"datum": 0.5, "type": "quantitative", "scale": {"domain": [0, 1]}, "axis": null}, "text": {"field": "label"}}},
    {"width": 600, "height": 76, "data": {"values": [{"label": "RMSE = 0.13"}]},
     "mark": {"type": "text", "font": "Liberation Sans", "fontSize": 48, "color": "black", "baseline": "middle", "dy": 4},
     "encoding": {"x": {"datum": 0.5, "type": "quantitative", "scale": {"domain": [0, 1]}, "axis": null}, "y": {"datum": 0.5, "type": "quantitative", "scale": {"domain": [0, 1]}, "axis": null}, "text": {"field": "label"}}}
  ]
}
